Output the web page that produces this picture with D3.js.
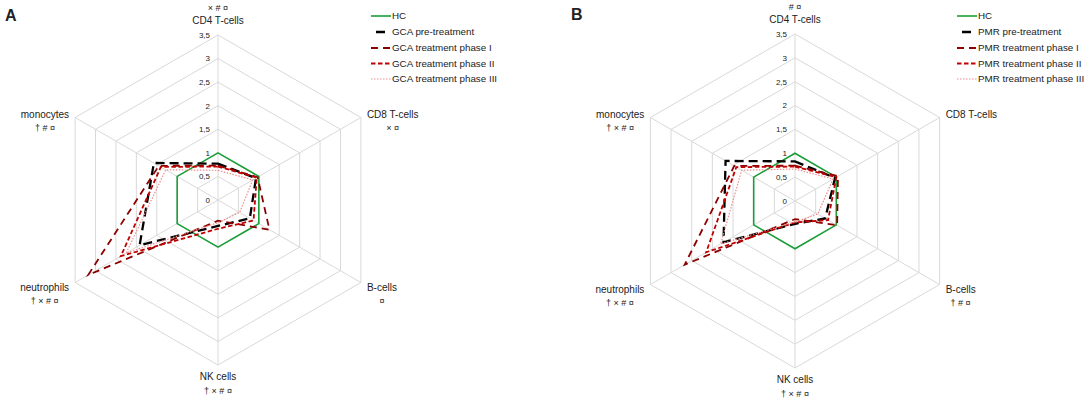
<!DOCTYPE html>
<html>
<head>
<meta charset="utf-8">
<script src="https://cdn.jsdelivr.net/npm/d3@7"></script>
<style>
  body { margin: 0; background: #fff; }
  text { font-family: "Liberation Sans", Arial, sans-serif; fill: #222; }
</style>
</head>
<body>
<svg width="1084" height="400"></svg>
<script>
// axes, clockwise from the top
var categories = ["CD4 T-cells", "CD8 T-cells", "B-cells", "NK cells", "neutrophils", "monocytes"];
var tickValues = [0, 0.5, 1, 1.5, 2, 2.5, 3, 3.5];
var tickLabels = ["0", "0,5", "1", "1,5", "2", "2,5", "3", "3,5"];

// significance marks per axis
var gcaSymbols = ["× # ¤", "× ¤", "¤", "† × # ¤", "† × # ¤", "† # ¤"];
var pmrSymbols = ["# ¤", "", "† # ¤", "† × # ¤", "† × # ¤", "† × # ¤"];

// fold change vs healthy controls
var hcValues   = [1, 1, 1, 1, 1, 1];
var gcaPre     = [0.77, 0.93, 0.78, 0.55, 1.92, 1.57];
var gcaPhase1  = [0.73, 0.97, 1.26, 0.44, 3.18, 1.45];
var gcaPhase2  = [0.71, 0.95, 0.87, 0.61, 2.38, 1.40];
var gcaPhase3  = [0.63, 0.85, 0.53, 0.48, 2.25, 1.28];
var pmrPre     = [0.83, 0.97, 0.73, 0.48, 1.73, 1.68];
var pmrPhase1  = [0.74, 1.04, 1.02, 0.38, 2.67, 1.47];
var pmrPhase2  = [0.72, 1.00, 0.80, 0.45, 2.15, 1.42];
var pmrPhase3  = [0.67, 0.92, 0.55, 0.44, 1.80, 1.29];

var styles = [
    { color: "#1a9e38", width: 1.6, dash: null,      legendDash: null },
    { color: "#000000", width: 2.3, dash: "9,5",     legendDash: "0,5,9,20" },
    { color: "#8b0000", width: 1.8, dash: "7,5",     legendDash: "7,5" },
    { color: "#c00000", width: 1.8, dash: "4.5,2.5", legendDash: "4.5,2.5" },
    { color: "#f08c8c", width: 1.2, dash: "1.5,1.5", legendDash: "1.5,1.5" }
];

var panels = [
    { letter: "A", lx: 5, ly: 21, cx: 218, cy: 200, R: 165, legendX: 371,
      names: ["HC", "GCA pre-treatment", "GCA treatment phase I", "GCA treatment phase II", "GCA treatment phase III"],
      series: [hcValues, gcaPre, gcaPhase1, gcaPhase2, gcaPhase3],
      symbols: gcaSymbols },
    { letter: "B", lx: 571, ly: 20, cx: 795, cy: 201, R: 167, legendX: 957,
      names: ["HC", "PMR pre-treatment", "PMR treatment phase I", "PMR treatment phase II", "PMR treatment phase III"],
      series: [hcValues, pmrPre, pmrPhase1, pmrPhase2, pmrPhase3],
      symbols: pmrSymbols }
];
var legendRows = [16, 32, 48, 63.5, 79];

var svg = d3.select("svg");
var angle = d3.scaleLinear().domain([0, categories.length]).range([0, 2 * Math.PI]);

panels.forEach(function (p) {
    var r = d3.scaleLinear().domain([0, 3.5]).range([0, p.R]);
    var g = svg.append("g").attr("transform", "translate(" + p.cx + "," + p.cy + ")");

    var radial = d3.lineRadial()
        .angle(function (d, i) { return angle(i); })
        .radius(function (d) { return r(d); })
        .curve(d3.curveLinearClosed);

    // grid rings
    g.selectAll(".ring")
        .data(tickValues.filter(function (t) { return t > 0; }))
        .enter().append("path")
        .attr("d", function (t) { return radial(categories.map(function () { return t; })); })
        .attr("fill", "none")
        .attr("stroke", "#d9d9d9")
        .attr("stroke-width", 1);

    // spokes
    g.selectAll(".spoke")
        .data(categories)
        .enter().append("line")
        .attr("x1", 0).attr("y1", 0)
        .attr("x2", function (d, i) { return r(3.5) * Math.sin(angle(i)); })
        .attr("y2", function (d, i) { return -r(3.5) * Math.cos(angle(i)); })
        .attr("stroke", "#d9d9d9")
        .attr("stroke-width", 1);

    // tick labels on the vertical axis
    g.selectAll(".tick")
        .data(tickValues)
        .enter().append("text")
        .attr("x", -8)
        .attr("y", function (t) { return -r(t); })
        .attr("dy", "0.35em")
        .attr("text-anchor", "end")
        .attr("font-size", 8)
        .text(function (t, i) { return tickLabels[i]; });

    // data lines
    g.selectAll(".series")
        .data(p.series)
        .enter().append("path")
        .attr("d", function (d) { return radial(d); })
        .attr("fill", "none")
        .attr("stroke", function (d, i) { return styles[i].color; })
        .attr("stroke-width", function (d, i) { return styles[i].width; })
        .attr("stroke-dasharray", function (d, i) { return styles[i].dash; })
        .attr("stroke-linejoin", "miter");

    // axis labels
    categories.forEach(function (c, i) {
        var a = angle(i);
        var vx = r(3.5) * Math.sin(a), vy = -r(3.5) * Math.cos(a);
        var lab = g.append("text").attr("font-size", 10).attr("text-anchor", "middle").text(c);
        var w = lab.node().getComputedTextLength();
        var sym = p.symbols[i];
        var x, y1, y2;
        if (i === 0) {          // top: marks above the name
            x = 0; y1 = vy - 11; y2 = vy - 24;
        } else if (i === 3) {   // bottom
            x = 0; y1 = vy + 15; y2 = vy + 29;
        } else {
            x = vx + (vx > 0 ? 6 + w / 2 : -6 - w / 2);
            y1 = vy + (vy < 0 ? 0 : 8);
            y2 = y1 + 13;
        }
        lab.attr("x", x).attr("y", y1);
        if (sym) {
            g.append("text")
                .attr("x", x).attr("y", y2)
                .attr("font-size", 9)
                .attr("text-anchor", "middle")
                .text(sym);
        }
    });

    // panel letter
    svg.append("text")
        .attr("x", p.lx).attr("y", p.ly)
        .attr("font-size", 16)
        .attr("font-weight", "bold")
        .attr("fill", "#000")
        .text(p.letter);

    // legend
    var lg = svg.append("g").attr("transform", "translate(" + p.legendX + ",0)");
    p.names.forEach(function (n, i) {
        var row = lg.append("g").attr("transform", "translate(0," + legendRows[i] + ")");
        row.append("line")
            .attr("x1", 0).attr("x2", 20).attr("y1", 0).attr("y2", 0)
            .attr("stroke", styles[i].color)
            .attr("stroke-width", styles[i].width)
            .attr("stroke-dasharray", styles[i].legendDash);
        row.append("text")
            .attr("x", 21).attr("y", 0).attr("dy", "0.35em")
            .attr("font-size", 9.8)
            .text(n);
    });
});
</script>
</body>
</html>
